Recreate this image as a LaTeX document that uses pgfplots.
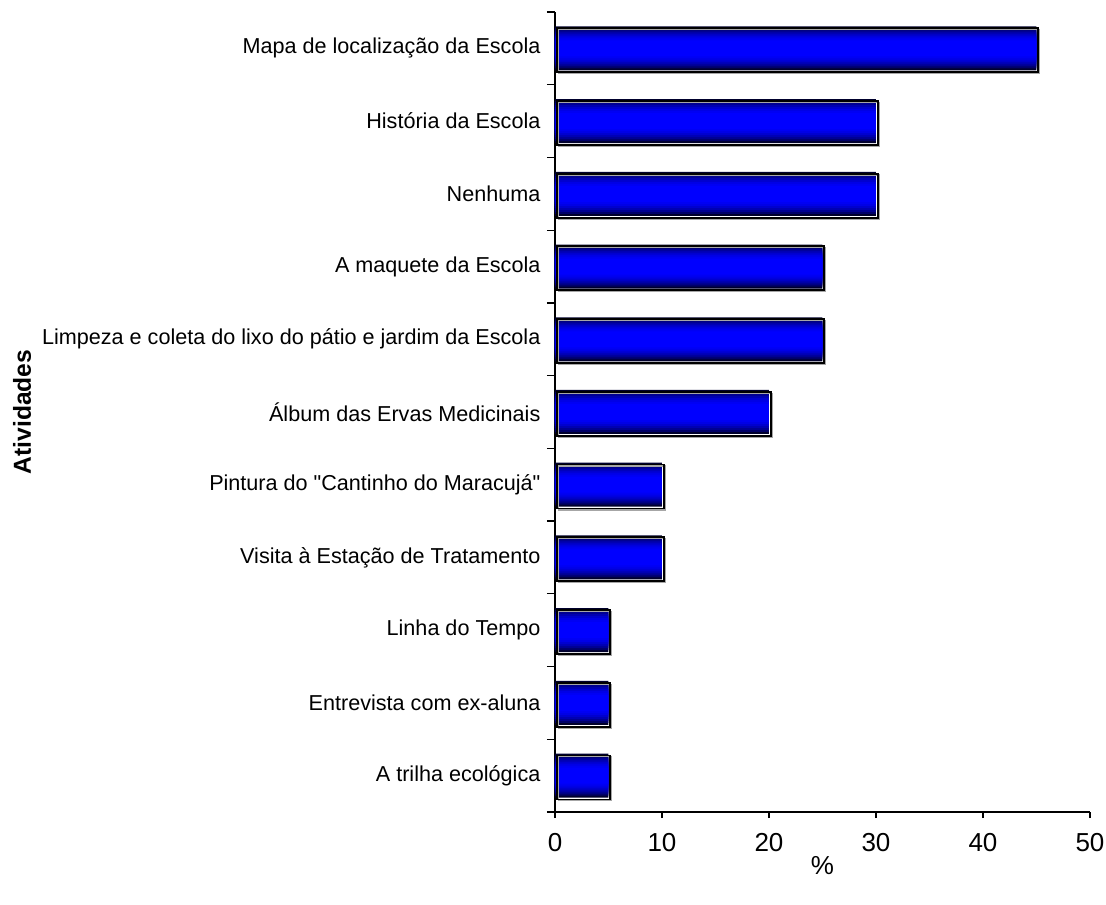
\documentclass[border=0pt]{standalone}
\usepackage{fontspec}
\setmainfont{Liberation Sans}[Ligatures=TeXOff]
\usepackage{pgfplots}
\pgfplotsset{compat=1.18}
\definecolor{barblue}{RGB}{0,0,255}
\definecolor{bardark}{RGB}{0,0,45}
\pgfplotstableread{
val pos
5 0
5 1
5 2
10 3
10 4
20 5
25 6
25 7
30 8
30 9
45 10
}\bardata
\begin{document}
\fontsize{10.8}{13}\selectfont
\begin{tikzpicture}
\begin{axis}[
  scale only axis, width=267.5pt, height=400pt,
  xbar, 
  xmin=0, xmax=50, ymin=-0.5, ymax=10.5,
  axis x line*=bottom, axis y line*=left,
  axis line style={-, black, line width=0.6pt},
  xtick={0,10,...,50},
  ytick={0,...,10},
  yticklabels={A trilha ecológica, Entrevista com ex-aluna, Linha do Tempo, Visita à Estação de Tratamento, Pintura do "Cantinho do Maracujá", Álbum das Ervas Medicinais, Limpeza e coleta do lixo do pátio e jardim da Escola, A maquete da Escola, Nenhuma, História da Escola, Mapa de localização da Escola},
  minor ytick={-0.5,0.5,...,10.5},
  tick align=outside, major tick length=3pt, minor tick length=4pt,
  major y tick style={draw=none},
  minor y tick style={black, line width=0.6pt},
  major x tick style={black, line width=0.6pt},
  xticklabel shift=4pt,
  yticklabel shift=0.5pt,
  /pgf/number format/assume math mode=true,
  yticklabel style={font=\fontsize{10.8}{13}\selectfont},
  xticklabel style={font=\fontsize{13}{15.6}\selectfont},
  xlabel={\%},
  ylabel={\textbf{Atividades}},
  every axis x label/.style={at={(axis description cs:0.5,0)}, yshift=-27pt, anchor=center, font=\fontsize{13}{15.6}\selectfont},
  every axis y label/.style={at={(axis description cs:0,0.5)}, xshift=-266.5pt, rotate=90, anchor=center, font=\fontsize{12.3}{14.8}\selectfont},
  clip=false,
]
% gradient layers (dark edges to bright blue centre)
\addplot[draw=none, fill=barblue!0!bardark,  bar shift=0pt, bar width=22pt] table[x=val,y=pos] {\bardata};
\addplot[draw=none, fill=barblue!28!bardark, bar shift=0pt, bar width=20pt] table[x=val,y=pos] {\bardata};
\addplot[draw=none, fill=barblue!48!bardark, bar shift=0pt, bar width=18pt] table[x=val,y=pos] {\bardata};
\addplot[draw=none, fill=barblue!64!bardark, bar shift=0pt, bar width=16pt] table[x=val,y=pos] {\bardata};
\addplot[draw=none, fill=barblue!77!bardark, bar shift=0pt, bar width=14pt] table[x=val,y=pos] {\bardata};
\addplot[draw=none, fill=barblue!88!bardark, bar shift=0pt, bar width=12pt] table[x=val,y=pos] {\bardata};
\addplot[draw=none, fill=barblue!95!bardark, bar shift=0pt, bar width=10pt] table[x=val,y=pos] {\bardata};
\addplot[draw=none, fill=barblue,            bar shift=0pt, bar width=8pt]  table[x=val,y=pos] {\bardata};
% outline with offset shadow
\addplot[draw=gray!70, line width=0.6pt, fill=none, bar shift=0pt, bar width=22pt,
  transform canvas={xshift=1.6pt, yshift=-1.6pt}] table[x=val,y=pos] {\bardata};
\addplot[draw=black, line width=0.9pt, fill=none, bar shift=0pt, bar width=22pt,
  transform canvas={xshift=0.9pt, yshift=-0.9pt}] table[x=val,y=pos] {\bardata};
\end{axis}
\pgfresetboundingbox
\path[use as bounding box] (current axis.south west) ++(-277.5pt,-46pt) rectangle ++(553pt,452pt);
\end{tikzpicture}
\end{document}
